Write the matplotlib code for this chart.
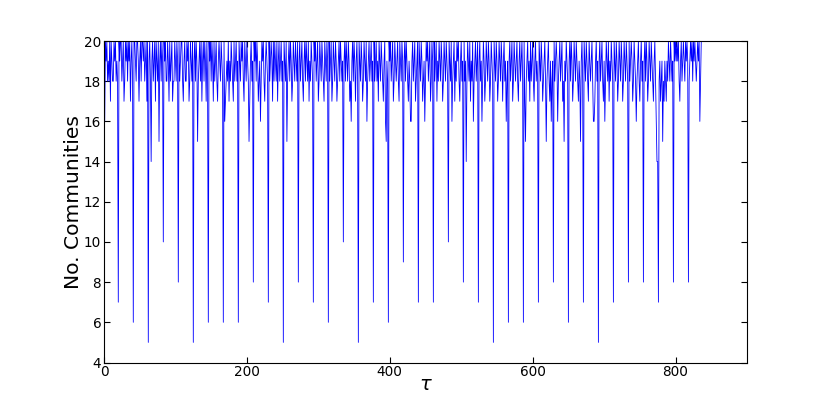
import numpy as np
import matplotlib
matplotlib.use('Agg')
import matplotlib.pyplot as plt

# number of communities per step, one row per ~21-step cycle (dip at the end)
rows = [
    [19, 16, 20, 19, 20, 18, 19, 18, 20, 17, 20, 19, 18, 18, 20, 19, 20, 18, 19, 18, 7],
    [20, 19, 20, 20, 18, 19, 20, 17, 18, 20, 19, 20, 18, 20, 19, 20, 17, 19, 20, 18, 6],
    [20, 20, 19, 18, 20, 20, 19, 17, 19, 20, 18, 20, 20, 19, 20, 18, 19, 20, 17, 20, 5],
    [19, 20, 18, 14, 19, 20, 18, 19, 20, 17, 20, 19, 18, 20, 15, 19, 20, 18, 20, 19, 10],
    [20, 19, 20, 18, 18, 20, 19, 17, 20, 18, 19, 20, 17, 18, 18, 20, 19, 18, 20, 19, 8],
    [20, 18, 19, 20, 20, 18, 17, 19, 20, 18, 18, 20, 19, 20, 17, 18, 20, 19, 18, 20, 5],
    [19, 20, 18, 20, 19, 15, 18, 19, 20, 18, 20, 17, 19, 20, 18, 20, 19, 17, 20, 18, 6],
    [20, 19, 20, 18, 20, 19, 17, 20, 18, 19, 20, 18, 17, 19, 20, 19, 18, 20, 19, 18, 6],
    [20, 16, 17, 18, 19, 18, 20, 17, 19, 18, 20, 19, 18, 17, 20, 18, 19, 20, 18, 19, 6],
    [20, 19, 18, 20, 19, 20, 18, 17, 20, 19, 18, 20, 19, 18, 15, 17, 19, 20, 18, 19, 8],
    [20, 19, 20, 18, 20, 19, 17, 18, 19, 16, 18, 20, 19, 20, 18, 17, 19, 20, 19, 18, 7],
    [20, 18, 19, 20, 19, 17, 20, 18, 20, 19, 18, 20, 17, 19, 20, 18, 19, 20, 18, 19, 5],
    [20, 19, 18, 20, 15, 18, 19, 20, 18, 20, 19, 17, 18, 20, 19, 18, 20, 19, 18, 20, 8],
    [19, 20, 18, 19, 20, 18, 17, 19, 20, 18, 20, 19, 18, 20, 17, 19, 18, 20, 19, 18, 7],
    [20, 19, 20, 18, 19, 20, 17, 18, 20, 19, 18, 20, 19, 18, 17, 20, 19, 18, 20, 19, 6],
    [20, 18, 19, 20, 17, 18, 20, 19, 18, 20, 19, 17, 18, 19, 20, 18, 20, 19, 18, 19, 10],
    [19, 20, 18, 20, 19, 18, 20, 19, 17, 18, 16, 19, 20, 18, 20, 19, 17, 19, 20, 18, 5],
    [20, 19, 18, 20, 19, 17, 18, 20, 19, 18, 20, 16, 18, 19, 20, 18, 19, 20, 18, 19, 7],
    [20, 18, 19, 20, 18, 19, 17, 20, 19, 18, 20, 19, 18, 17, 19, 20, 16, 15, 19, 18, 6],
    [20, 19, 20, 18, 19, 20, 17, 18, 20, 19, 18, 19, 20, 18, 17, 20, 19, 18, 20, 19, 9],
    [19, 20, 18, 20, 19, 18, 17, 19, 18, 16, 16, 19, 20, 18, 19, 20, 17, 18, 19, 20, 7],
    [20, 19, 18, 20, 19, 17, 18, 19, 16, 18, 20, 19, 20, 18, 19, 20, 17, 18, 20, 19, 7],
    [20, 18, 19, 20, 17, 19, 18, 20, 19, 18, 20, 19, 17, 18, 20, 19, 18, 20, 19, 18, 10],
    [20, 19, 18, 20, 16, 18, 19, 20, 17, 19, 18, 20, 19, 20, 18, 17, 19, 20, 18, 19, 8],
    [20, 18, 19, 14, 18, 20, 19, 18, 20, 17, 19, 18, 20, 16, 18, 19, 20, 18, 19, 20, 7],
    [19, 20, 18, 19, 16, 18, 20, 19, 17, 18, 20, 19, 18, 20, 19, 17, 18, 20, 19, 18, 5],
    [20, 19, 18, 20, 19, 17, 18, 20, 19, 18, 20, 19, 17, 19, 20, 18, 19, 16, 18, 19, 6],
    [19, 20, 18, 19, 20, 17, 18, 20, 19, 18, 19, 20, 18, 17, 19, 20, 18, 19, 20, 18, 6],
    [20, 17, 15, 18, 19, 20, 18, 19, 17, 20, 18, 19, 20, 18, 17, 19, 20, 18, 19, 18, 7],
    [20, 19, 18, 20, 19, 17, 18, 19, 20, 18, 15, 18, 19, 20, 18, 17, 19, 16, 18, 19, 8],
    [20, 18, 19, 20, 19, 16, 18, 19, 20, 18, 19, 20, 17, 18, 15, 19, 18, 20, 19, 18, 6],
    [19, 20, 18, 20, 19, 17, 18, 20, 19, 18, 20, 19, 18, 17, 19, 18, 15, 19, 20, 18, 7],
    [20, 19, 18, 20, 19, 18, 17, 20, 19, 18, 19, 20, 18, 16, 16, 17, 19, 20, 18, 19, 5],
    [19, 20, 18, 19, 20, 18, 17, 19, 16, 18, 20, 19, 18, 20, 17, 19, 18, 20, 19, 18, 7],
    [20, 19, 18, 20, 19, 17, 18, 20, 19, 18, 20, 19, 17, 18, 20, 19, 18, 20, 19, 18, 8],
    [20, 18, 19, 20, 19, 17, 18, 20, 19, 18, 16, 18, 19, 20, 18, 17, 19, 20, 18, 19, 8],
    [19, 20, 18, 20, 19, 17, 18, 20, 19, 18, 20, 19, 18, 17, 19, 20, 18, 16, 14, 14, 7],
    [18, 19, 17, 18, 19, 15, 18, 17, 19, 18, 17, 19, 18, 20, 19, 18, 20, 19, 18, 19, 8],
    [20, 19, 20, 19, 20, 19, 20, 18, 17, 19, 20, 18, 19, 20, 19, 18, 20, 19, 20, 19, 8],
    [18, 19, 20, 19, 20, 18, 20, 19, 20, 19, 18, 19, 20, 19, 20, 16, 18, 20, 20],
]

communities = [v for r in rows for v in r]
tau = np.arange(len(communities))

xticks = [0, 200, 400, 600, 800]
yticks = [4, 6, 8, 10, 12, 14, 16, 18, 20]

fig = plt.figure(figsize=(8.3, 4.15), dpi=100, facecolor='white')
ax = fig.add_axes([0.1253, 0.1265, 0.7747, 0.7747])

ax.plot(tau, communities, color='b', lw=0.6)

ax.set_xlim(0, 900)
ax.set_ylim(4, 20)
ax.set_xticks(xticks)
ax.set_yticks(yticks)
ax.tick_params(direction='in', top=True, right=True, length=4, labelsize=9.8, pad=2)
for s in ax.spines.values():
    s.set_linewidth(0.8)

ax.set_xlabel(r'$\tau$', fontsize=14, labelpad=-3)
ax.set_ylabel('No. Communities', fontsize=14.6, labelpad=0.5)

fig.savefig('out.png', dpi=100, facecolor='white')
